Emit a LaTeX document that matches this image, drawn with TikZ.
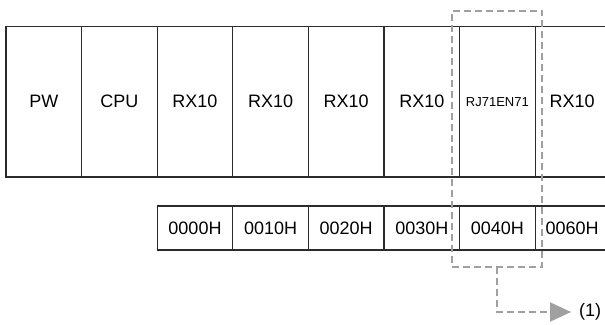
\documentclass[tikz,border=0pt]{standalone}
\usepackage{fontspec}
\setmainfont{Liberation Sans}
\usetikzlibrary{arrows.meta}
\definecolor{boxline}{HTML}{2B2B2B}
\definecolor{dashgray}{HTML}{A0A0A0}
\begin{document}
\begin{tikzpicture}[x=1pt,y=1pt,
  topcell/.style={draw=boxline, line width=1.1pt, minimum width=75.6pt, minimum height=150.5pt,
     inner sep=0pt, outer sep=0pt, anchor=west, font=\fontsize{18}{21}\selectfont},
  opentop/.style={topcell, draw=none},
  addrcell/.style={draw=boxline, line width=1.1pt, minimum width=75.6pt, minimum height=44pt,
     inner sep=0pt, outer sep=0pt, anchor=west, font=\fontsize{18}{21}\selectfont},
  openaddr/.style={addrcell, draw=none},
  grpbox/.style={draw=dashgray, line width=2pt, dash pattern=on 7pt off 4pt,
     minimum width=90.6pt, minimum height=255.7pt, inner sep=0pt, outer sep=0pt},
  dashcon/.style={draw=dashgray, line width=2pt, dash pattern=on 7pt off 4pt,
     -{Triangle[length=21pt,width=19pt,fill=dashgray]}},
  lbl/.style={inner ysep=2pt, inner xsep=8pt, outer sep=0pt, anchor=west, font=\fontsize{18}{21}\selectfont}
]
\useasboundingbox (0,0) rectangle (605,324);
% top row
\node[topcell] (pw)  at (6,222.25) {PW};
\node[topcell] (cpu) at (81.6,222.25) {CPU};
\node[topcell] (t1)  at (157.2,222.25) {RX10};
\node[topcell] (t2)  at (232.8,222.25) {RX10};
\node[topcell] (t3)  at (308.4,222.25) {RX10};
\node[topcell] (t4)  at (384,222.25) {RX10};
\node[topcell, font=\fontsize{13}{15}\selectfont] (rj) at (459.6,222.25) {RJ71EN71};
\node[opentop, minimum width=74pt] (t6) at (535.2,222.25) {RX10};
\coordinate (tne) at (605,297.5);
\coordinate (tse) at (605,147);
\draw[boxline, line width=1.1pt] (t6.north west) -- (tne);
\draw[boxline, line width=1.1pt] (t6.south west) -- (tse);
% address row
\node[addrcell] (a0) at (157.2,96) {0000H};
\node[addrcell] (a1) at (232.8,96) {0010H};
\node[addrcell] (a2) at (308.4,96) {0020H};
\node[addrcell] (a3) at (384,96) {0030H};
\node[addrcell] (a4) at (459.6,96) {0040H};
\node[openaddr, minimum width=74pt] (a6) at (535.2,96) {0060H};
\coordinate (ane) at (605,118);
\coordinate (ase) at (605,74);
\draw[boxline, line width=1.1pt] (a6.north west) -- (ane);
\draw[boxline, line width=1.1pt] (a6.south west) -- (ase);
% group outline and label
\node[grpbox] (grp) at (497,185.15) {};
\node[lbl] (one) at (571,12) {(1)};
\draw[dashcon] (grp.south) |- (one.west);
\end{tikzpicture}
\end{document}
